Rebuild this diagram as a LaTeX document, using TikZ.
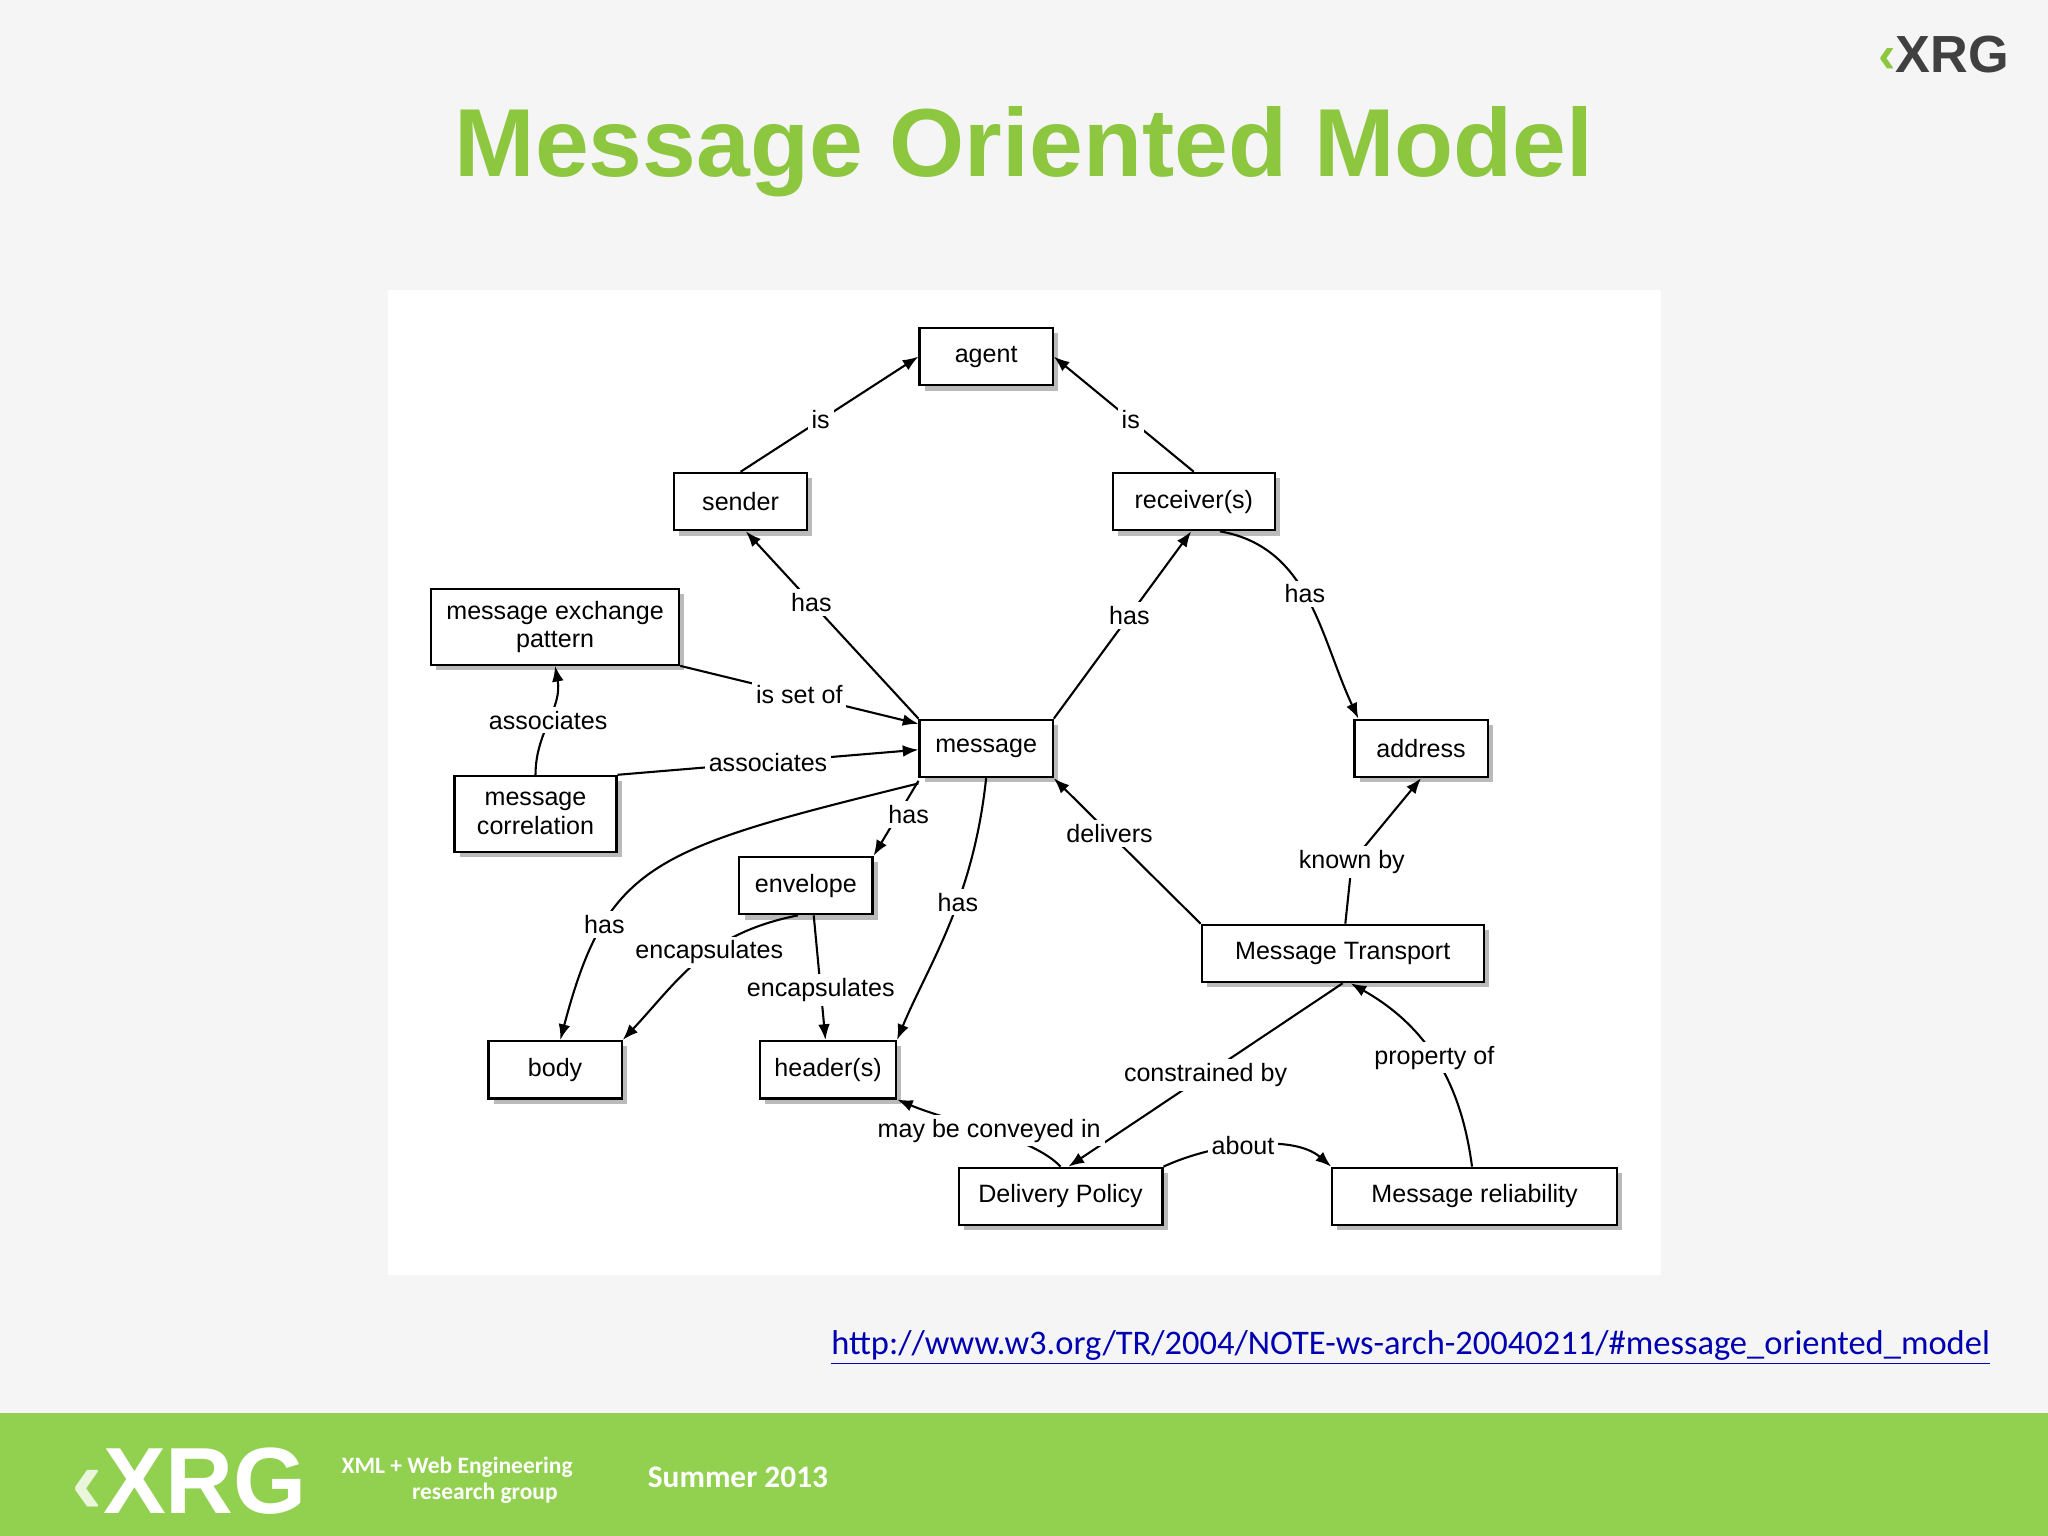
\documentclass[tikz,border=0pt]{standalone}
\usepackage{fontspec}
\setmainfont{Liberation Sans}
\newfontfamily\calfont{Carlito}
\usetikzlibrary{arrows.meta,shadows}
\definecolor{xgreen}{RGB}{141,198,63}
\definecolor{band}{RGB}{146,208,80}
\begin{document}
\begin{tikzpicture}[x=0.5pt,y=-0.5pt,
  box/.style={draw=black,thick,fill=white,font=\fontsize{9.6}{11}\selectfont,align=center,inner sep=0pt,
    drop shadow={shadow xshift=2pt,shadow yshift=-2pt,fill=black!45,opacity=0.6}},
  lab/.style={fill=white,inner sep=1.5pt,font=\fontsize{9.6}{11}\selectfont},
  arr/.style={-{Latex[length=6pt,width=4.5pt]},line width=0.8pt}]
\useasboundingbox (0,0) rectangle (1568,1176);
\fill[black!4] (0,0) rectangle (1568,1082);
\fill[band] (0,1082) rectangle (1568,1176);
\fill[white] (297,222) rectangle (1272,976);
\node[font=\fontsize{37}{40}\selectfont\bfseries,text=xgreen] (title) at (784,116) {Message Oriented Model};
\node[font=\fontsize{20}{20}\selectfont\bfseries,text=black!75] (logo) at (1488,42) {\textcolor{xgreen}{\char"2039}XRG};
% nodes
\node[box,minimum width=51pt,minimum height=22pt] (agent) at (755,273) {agent};
\node[box,minimum width=51pt,minimum height=22pt] (sender) at (567,384) {sender};
\node[box,minimum width=62pt,minimum height=22pt] (recv) at (914,384) {receiver(s)};
\node[box,minimum width=95pt,minimum height=29pt] (mep) at (425,480) {message exchange\\pattern};
\node[box,minimum width=51pt,minimum height=22pt] (msg) at (755,573) {message};
\node[box,minimum width=51pt,minimum height=22pt] (addr) at (1088,573) {address};
\node[box,minimum width=62pt,minimum height=29pt] (mcor) at (410,623) {message\\correlation};
\node[box,minimum width=51pt,minimum height=22pt] (env) at (617,678) {envelope};
\node[box,minimum width=108pt,minimum height=22pt] (mt) at (1028,730) {Message Transport};
\node[box,minimum width=51pt,minimum height=22pt] (body) at (425,819) {body};
\node[box,minimum width=52pt,minimum height=22pt] (hdr) at (634,819) {header(s)};
\node[box,minimum width=78pt,minimum height=22pt] (dp) at (812,916) {Delivery Policy};
\node[box,minimum width=109pt,minimum height=22pt] (rel) at (1129,916) {Message reliability};
\coordinate (kb) at (1035,660);
% edges
\draw[arr] (sender.north) -- node[lab,pos=0.45]{is} (agent.west);
\draw[arr] (recv.north) -- node[lab,pos=0.45]{is} (agent.east);
\draw[arr] (msg.north west) -- node[lab,pos=0.62]{has} ([xshift=2pt]sender.south);
\draw[arr] (msg.north east) -- node[lab,pos=0.55]{has} ([xshift=-1pt]recv.south);
\draw[arr] ([xshift=10pt]recv.south) to[out=-10,in=115] node[lab,pos=0.47]{has} ([xshift=-24pt]addr.north);
\draw[arr] (mep.south east) -- node[lab]{is set of} ([yshift=-2pt]msg.north west) ;
\draw[arr] (mcor.north east) -- node[lab]{associates} ([yshift=-0.5pt]msg.west);
\draw[arr] (mcor.north) to[out=90,in=-80] node[lab]{associates} (mep.south);
\draw[arr] ([yshift=-1pt]msg.south west) -- node[lab,pos=0.45,xshift=4pt]{has} (env.north east);
\draw[arr] ([yshift=-2pt]msg.south west) .. controls (500,650) and (465,660) .. node[lab,pos=0.72]{has} ([xshift=2pt]body.north);
\draw[arr] (msg.south) .. controls (745,690) and (710,740) .. node[lab,pos=0.4]{has} (hdr.north east);
\draw[arr] ([xshift=-3pt]env.south) .. controls (540,715) and (520,750) .. node[lab,pos=0.42]{encapsulates} (body.north east);
\draw[arr] ([xshift=3pt]env.south) -- node[lab,pos=0.6]{encapsulates} ([xshift=-1pt]hdr.north);
\draw[arr] (mt.north west) -- node[lab,pos=0.62]{delivers} (msg.south east);
\draw[arr] ([xshift=1pt]mt.north) -- (kb) node[lab,pos=1]{known by} -- (addr.south);
\draw[arr] (mt.south) -- node[lab]{constrained by} ([xshift=3pt]dp.north);
\draw[arr] ([xshift=-1pt]rel.north) .. controls (1120,840) and (1100,790) .. node[lab,pos=0.55]{property of} ([xshift=3pt]mt.south);
\draw[arr] (dp.north) .. controls (790,870) and (730,860) .. node[lab,pos=0.5]{may be conveyed in} (hdr.south east);
\draw[arr] (dp.north east) .. controls (930,875) and (990,868) .. node[lab,pos=0.45]{about} (rel.north west);
% footer
\node[font=\calfont\fontsize{13.2}{14}\selectfont,text=blue!70!black] (link) at (1080,1032) {\underline{http://www.w3.org/TR/2004/NOTE-ws-arch-20040211/\#message\_oriented\_model}};
\node[font=\fontsize{36}{36}\selectfont\bfseries,text=white] (flogo) at (145,1134) {\textcolor{white!80!band}{\char"2039}XRG};
\node[font=\calfont\bfseries\fontsize{9}{10}\selectfont,text=white,align=left] (fgrp) at (350,1133) {XML \textbf{+} Web Engineering\\\hspace{3em}research group};
\node[font=\calfont\bfseries\fontsize{12}{13}\selectfont,text=white] (sum) at (565,1131) {Summer 2013};
\end{tikzpicture}
\end{document}
